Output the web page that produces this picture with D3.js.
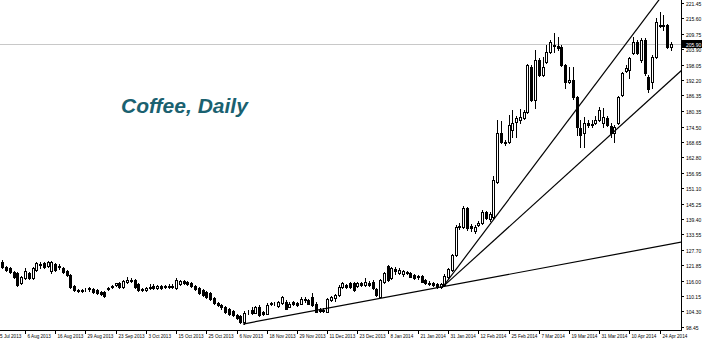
<!DOCTYPE html>
<html>
<head>
<meta charset="utf-8">
<script src="https://cdn.jsdelivr.net/npm/d3@7"></script>
<style>
body { margin: 0; background: #fff; }
svg { display: block; }
.axisText { font-family: "Liberation Sans", Arial, sans-serif; fill: #000; }
</style>
</head>
<body>
<script>
//daily OHLC, one entry per bar (29 Jul 2013 .. 29 Apr 2014)
var opens = [123.1,121.0,120.6,119.2,118.9,115.1,116.9,118.9,116.9,120.0,121.9,122.6,121.5,119.6,122.3,121.5,120.8,119.6,118.1,113.9,
    112.4,112.0,112.4,112.8,112.8,112.4,111.6,111.6,112.8,113.5,114.3,115.1,113.5,115.4,115.8,116.2,114.7,112.8,112.4,113.2,
    113.9,113.2,113.9,113.9,113.5,113.9,113.2,114.7,115.8,115.4,115.1,113.9,113.2,112.4,111.6,111.2,109.4,107.5,106.7,105.9,
    105.2,104.4,102.9,102.5,100.2,104.0,104.8,103.8,106.0,104.0,103.5,107.1,107.1,106.3,107.5,108.0,106.0,107.8,107.5,107.3,
    108.6,108.6,109.8,107.3,105.0,104.4,104.2,108.6,109.4,110.5,113.4,114.3,114.9,114.9,113.9,114.9,114.3,115.2,115.5,112.7,
    109.8,115.5,121.5,116.8,120.4,118.9,118.5,119.2,118.7,118.1,117.7,117.7,116.2,115.2,114.9,114.7,113.5,114.3,117.3,120.0,
    125.7,136.3,136.3,143.6,136.7,134.8,137.1,137.9,142.0,139.4,140.1,153.4,172.1,168.6,168.6,173.2,176.2,177.0,177.7,180.0,
    197.1,184.6,199.8,194.1,199.0,202.8,205.1,205.1,204.7,197.9,191.4,192.2,185.7,173.9,172.1,175.9,175.1,175.9,177.0,175.9,
    177.7,174.7,172.1,175.9,186.5,195.6,196.0,202.4,206.6,199.8,207.4,193.3,191.4,200.9,212.7,212.7,213.1,204.7];
var highs = [123.8,121.5,121.2,119.6,119.2,117.7,120.8,119.2,121.2,123.0,123.1,123.0,123.4,123.4,122.6,122.3,121.2,120.0,118.5,114.3,
    112.8,112.8,113.2,113.5,113.2,112.8,112.0,112.0,113.5,114.3,115.1,115.4,116.2,117.3,116.9,116.5,115.1,113.2,113.5,114.7,
    114.7,114.3,114.3,114.3,114.7,114.7,116.9,116.2,116.2,115.8,115.4,114.3,113.5,112.8,112.0,111.6,109.7,107.8,107.1,106.3,
    105.6,104.8,103.3,102.9,104.4,104.8,106.0,106.3,106.7,104.4,107.5,107.8,107.8,108.2,110.1,108.6,107.8,108.2,107.8,109.7,
    109.7,109.0,111.1,107.8,105.6,105.6,109.4,110.1,110.9,114.3,115.5,114.7,115.4,115.4,115.4,115.4,116.8,115.8,116.2,113.2,
    116.5,119.2,121.9,121.2,121.2,120.8,120.0,119.6,119.2,118.5,118.1,118.1,116.5,115.8,115.4,115.1,115.1,118.5,120.8,126.1,
    137.1,137.9,144.3,143.9,137.5,137.1,138.6,142.8,142.4,142.0,155.7,177.0,176.6,169.4,178.9,180.8,178.5,181.2,180.8,198.3,
    197.9,203.6,200.5,200.9,205.5,207.4,210.1,208.5,205.5,198.3,197.1,197.1,186.1,177.0,178.1,177.0,177.0,178.5,181.9,181.5,
    178.5,175.9,175.1,186.1,195.2,197.9,200.9,208.5,207.4,208.2,208.2,194.1,201.7,215.7,218.0,216.9,213.5,206.6];
var lows = [120.8,119.6,118.9,116.9,113.9,114.7,116.5,116.5,116.5,119.6,120.8,120.8,121.1,118.9,119.6,120.4,118.9,117.7,113.2,112.0,
    111.6,111.6,112.0,112.2,111.2,110.9,110.5,109.7,112.4,113.2,113.9,113.2,113.2,115.1,115.4,113.2,112.0,112.0,112.0,112.8,
    112.8,112.8,112.8,113.0,113.2,113.0,112.8,114.3,114.7,114.3,113.5,112.4,110.9,110.1,109.4,108.6,107.1,106.3,105.2,103.6,
    102.9,102.5,101.6,99.9,99.5,103.5,103.3,103.6,102.5,102.9,103.3,106.7,106.7,105.9,107.1,105.2,105.9,106.7,106.3,107.1,
    107.8,107.1,106.3,104.0,104.0,104.0,104.0,108.2,108.2,110.1,113.2,113.2,113.2,112.0,113.5,113.9,113.9,113.9,112.8,110.1,
    109.7,115.1,115.8,116.5,118.5,118.5,117.7,118.5,117.3,116.5,116.5,115.4,114.7,114.3,113.9,113.2,113.2,113.9,116.9,119.6,
    125.3,135.6,135.9,135.2,134.8,134.1,136.7,137.5,139.4,138.6,139.7,153.0,168.2,167.5,168.2,170.5,170.5,175.9,177.4,179.7,
    184.2,181.5,193.7,193.7,198.7,202.4,202.8,203.6,197.5,189.2,191.1,185.0,171.3,166.7,166.7,174.3,174.3,175.5,176.6,174.3,
    174.7,170.5,168.6,175.5,186.1,195.2,192.9,202.0,202.0,199.0,194.1,187.6,189.2,200.5,212.3,211.2,204.4,203.6];
var closes = [121.2,120.2,119.2,117.3,114.3,117.3,119.6,116.9,120.8,122.6,122.3,121.1,123.0,123.0,120.0,121.0,119.2,118.1,113.5,112.4,
    112.1,112.4,112.6,113.0,111.6,111.2,110.9,110.1,113.2,113.9,114.9,113.5,115.8,116.2,116.2,113.5,112.4,112.4,113.0,113.7,
    113.3,113.9,113.2,113.5,114.1,113.7,116.2,115.8,115.1,114.7,113.9,112.8,111.2,110.5,109.7,109.0,107.5,106.7,105.9,104.0,
    103.3,102.9,101.9,100.3,103.8,104.2,103.6,105.8,102.9,103.3,106.7,107.5,107.3,108.0,109.8,105.4,107.3,107.1,106.7,109.2,
    109.2,107.3,106.7,104.2,104.4,105.0,108.9,109.8,110.5,113.6,114.9,113.4,113.4,112.4,114.9,114.3,115.5,114.3,113.0,110.5,
    116.2,118.7,116.2,120.6,119.6,120.0,119.6,118.9,117.4,116.8,117.3,115.5,115.1,114.7,114.5,113.5,114.7,117.7,120.4,125.7,
    136.3,136.7,143.6,135.9,135.9,136.3,137.9,142.0,139.8,141.3,154.2,172.1,168.6,168.2,175.1,175.9,177.7,178.1,180.0,197.9,
    184.6,199.8,194.1,197.1,202.8,206.6,205.5,204.4,197.9,191.4,192.2,185.7,174.3,171.3,175.9,175.1,175.5,177.0,180.8,178.1,
    175.1,172.1,174.3,185.7,194.9,196.7,200.5,206.6,202.4,207.4,194.9,188.8,200.9,214.2,213.1,213.1,204.7,205.9];

//date labels, one every 8 bars starting two bars before the first one
var dateLabels = ["25 Jul 2013","6 Aug 2013","16 Aug 2013","29 Aug 2013","23 Sep 2013","3 Oct 2013","15 Oct 2013","25 Oct 2013",
    "6 Nov 2013","18 Nov 2013","29 Nov 2013","11 Dec 2013","23 Dec 2013","8 Jan 2014","21 Jan 2014","31 Jan 2014",
    "12 Feb 2014","25 Feb 2014","7 Mar 2014","19 Mar 2014","31 Mar 2014","10 Apr 2014","24 Apr 2014"];
var priceTicks = ["221.45","215.60","209.75","203.90","198.05","192.20","186.35","180.35","174.50","168.65","162.80",
    "156.95","151.10","145.25","139.40","133.55","127.70","121.85","116.00","110.15","104.30","98.45"];

//trend lines as [bar index, price] anchor pairs, drawn as rays to the right
var trendStart = [[63.7, 99.5], [116.65, 113.7], [116.65, 113.7]];
var trendThrough = [[116.65, 113.7], [173.8, 222.6], [179.6, 195.6]];

var width = 702, height = 342,
    plotRight = 681, plotBottom = 330;

var svg = d3.select("body").append("svg")
    .attr("width", width)
    .attr("height", height);

svg.append("rect")
    .attr("width", width)
    .attr("height", height)
    .attr("fill", "#fff");

var xScale = d3.scaleLinear()
    .domain([0, closes.length - 1])
    .range([2.3, 671]);
var yScale = d3.scaleLinear()
    .domain([98.45, 221.45])
    .range([326.8, 3]);

svg.append("clipPath").attr("id", "plotClip")
    .append("rect")
    .attr("width", plotRight)
    .attr("height", plotBottom);

var plot = svg.append("g").attr("clip-path", "url(#plotClip)");

//bid line at the last close
var lastClose = closes[closes.length - 1];
var bidY = Math.round(yScale(lastClose)) + 0.5;
plot.append("line")
    .attr("x1", 0).attr("x2", plotRight)
    .attr("y1", bidY).attr("y2", bidY)
    .attr("stroke", "#c8c8c8")
    .attr("stroke-width", 1);

//candles
var bars = d3.range(closes.length).map(function(i){
    return {i: i, o: opens[i], h: highs[i], l: lows[i], c: closes[i]};
});

var candle = plot.selectAll(".candle")
    .data(bars)
    .enter()
    .append("g")
    .attr("class", "candle");

candle.append("line")
    .attr("x1", function(d){ return Math.round(xScale(d.i)) + 0.5; })
    .attr("x2", function(d){ return Math.round(xScale(d.i)) + 0.5; })
    .attr("y1", function(d){ return Math.round(yScale(d.h)); })
    .attr("y2", function(d){ return Math.round(yScale(d.l)) + 1; })
    .attr("stroke", "#000")
    .attr("stroke-width", 1);

candle.append("rect")
    .attr("x", function(d){ return Math.round(xScale(d.i)) - 0.5; })
    .attr("width", 2)
    .attr("y", function(d){ return Math.round(yScale(Math.max(d.o, d.c))) + 0.5; })
    .attr("height", function(d){
        return Math.max(0, Math.round(yScale(Math.min(d.o, d.c))) - Math.round(yScale(Math.max(d.o, d.c))));
    })
    .attr("fill", function(d){ return d.c >= d.o ? "#fff" : "#000"; })
    .attr("stroke", "#000")
    .attr("stroke-width", 1);

//trend lines
var lastIdx = xScale.invert(plotRight + 2);
trendStart.forEach(function(p, k){
    var q = trendThrough[k];
    var slope = (q[1] - p[1]) / (q[0] - p[0]);
    plot.append("line")
        .attr("x1", xScale(p[0]))
        .attr("y1", yScale(p[1]))
        .attr("x2", xScale(lastIdx))
        .attr("y2", yScale(p[1] + slope * (lastIdx - p[0])))
        .attr("stroke", "#000")
        .attr("stroke-width", 1.2);
});

//title
svg.append("text")
    .attr("x", 121)
    .attr("y", 113)
    .attr("font-family", "'Liberation Sans', Arial, sans-serif")
    .attr("font-size", 21)
    .attr("font-weight", "bold")
    .attr("font-style", "italic")
    .attr("fill", "#1a6170")
    .text("Coffee, Daily");

//price axis on the right
svg.append("line")
    .attr("x1", plotRight + 0.5).attr("x2", plotRight + 0.5)
    .attr("y1", 0).attr("y2", plotBottom + 1)
    .attr("stroke", "#000");

var pTick = svg.selectAll(".pTick")
    .data(priceTicks)
    .enter()
    .append("g")
    .attr("class", "pTick")
    .attr("transform", function(d){
        return "translate(0," + (Math.round(yScale(+d)) + 0.5) + ")";
    });
pTick.append("line")
    .attr("x1", plotRight).attr("x2", plotRight + 3)
    .attr("stroke", "#000");
pTick.append("text")
    .attr("class", "axisText")
    .attr("x", plotRight + 5)
    .attr("y", 2)
    .attr("font-size", 5)
    .text(function(d){ return d; });

//last price box
svg.append("rect")
    .attr("x", plotRight + 1)
    .attr("y", bidY - 4.5)
    .attr("width", width - plotRight - 1)
    .attr("height", 8)
    .attr("fill", "#000");
svg.append("text")
    .attr("x", plotRight + 5)
    .attr("y", bidY + 2)
    .attr("font-family", "'Liberation Sans', Arial, sans-serif")
    .attr("font-size", 5)
    .attr("fill", "#fff")
    .text(lastClose.toFixed(2));

//date axis at the bottom
svg.append("line")
    .attr("x1", 0).attr("x2", plotRight)
    .attr("y1", plotBottom + 0.5).attr("y2", plotBottom + 0.5)
    .attr("stroke", "#000");

var dTick = svg.selectAll(".dTick")
    .data(dateLabels)
    .enter()
    .append("g")
    .attr("class", "dTick")
    .attr("transform", function(d, k){
        return "translate(" + (Math.round(xScale(-2 + 8 * k)) + 0.5) + ",0)";
    });
dTick.append("line")
    .attr("y1", plotBottom).attr("y2", plotBottom + 4)
    .attr("stroke", "#000");
dTick.append("text")
    .attr("class", "axisText")
    .attr("x", 2)
    .attr("y", plotBottom + 8)
    .attr("font-size", 4.6)
    .text(function(d){ return d; });
</script>
</body>
</html>
